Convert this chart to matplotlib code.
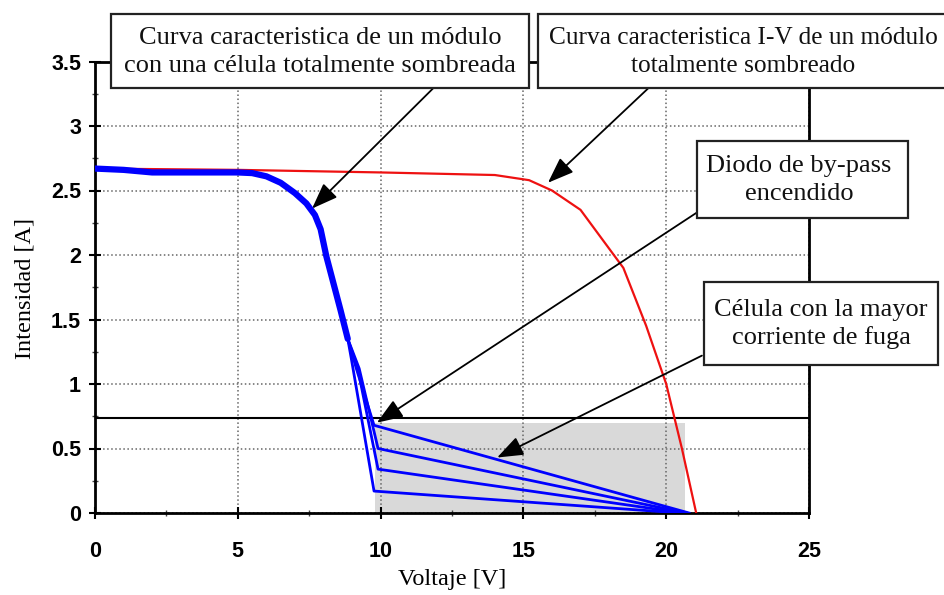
import matplotlib.pyplot as plt
from matplotlib.patches import Rectangle
from matplotlib.ticker import MultipleLocator

plt.rcParams['font.family'] = 'Liberation Serif'

# I-V del modulo totalmente sombreado (rojo)
v_red = [0, 5, 10, 14, 15.2, 16, 17, 18.5, 19.3, 20, 20.55, 21.05]
i_red = [2.67, 2.66, 2.64, 2.62, 2.58, 2.5, 2.35, 1.9, 1.45, 1.0, 0.5, 0.0]

# tramo comun de las curvas azules (una celula sombreada)
v_blue = [0, 1, 2, 3, 4, 5, 5.5, 6.0, 6.5, 7.0, 7.4, 7.7, 7.9, 8.1, 8.6, 8.85]
i_blue = [2.67, 2.66, 2.64, 2.64, 2.64, 2.64, 2.635, 2.61, 2.56, 2.48, 2.40, 2.31, 2.2, 1.99,
          1.57, 1.35]

# tramo final de cada curva azul
v_tail = [[9.15, 9.77, 20.8], [9.25, 9.91, 20.7], [9.2, 9.91, 20.6], [8.98, 9.77, 20.5]]
i_tail = [[1.12, 0.68, 0.0], [1.12, 0.50, 0.0], [1.12, 0.34, 0.0], [1.19, 0.17, 0.0]]

# zona sombreada y linea horizontal
shade_v = [9.8, 20.65]
shade_i = 0.70
i_line = 0.74

xticks = [0, 5, 10, 15, 20, 25]
xlabels = ['0', '5', '10', '15', '20', '25']
yticks = [0, 0.5, 1, 1.5, 2, 2.5, 3, 3.5]
ylabels = ['0', '0.5', '1', '1.5', '2', '2.5', '3', '3.5']

W, H = 944, 595

fig = plt.figure(figsize=(W / 100, H / 100), dpi=100)
ax = fig.add_axes([95 / W, 1 - 513 / H, 714 / W, 451.5 / H])

ax.fill_between(shade_v, 0, shade_i, color='#d9d9d9', lw=0, zorder=0.2)
ax.axhline(i_line, color='black', lw=1.5, zorder=2)

ax.plot(v_red, i_red, color='#ee1111', lw=1.6, zorder=3)
for vt, it in zip(v_tail, i_tail):
    ax.plot(v_blue + vt, i_blue + it, color='#0000ff', lw=2, zorder=4)
ax.plot(v_blue, i_blue, color='#0000ff', lw=4.5, solid_capstyle='round',
        solid_joinstyle='round', zorder=4)

ax.set_xlim(0, 25)
ax.set_ylim(0, 3.5)
ax.set_xticks(xticks)
ax.set_xticklabels(xlabels)
ax.set_yticks(yticks)
ax.set_yticklabels(ylabels)
ax.xaxis.set_minor_locator(MultipleLocator(2.5))
ax.yaxis.set_minor_locator(MultipleLocator(0.25))
for lab in ax.get_xticklabels() + ax.get_yticklabels():
    lab.set_family('Liberation Sans')
    lab.set_fontweight('bold')
    lab.set_fontsize(15.5)
ax.tick_params(which='major', direction='inout', length=8, width=1.5, color='black')
ax.tick_params(which='minor', direction='inout', length=5, width=1, color='#444444')
ax.tick_params(axis='x', which='major', pad=16)
ax.tick_params(axis='y', which='major', pad=6)

ax.set_axisbelow(True)
ax.grid(True, which='major', linestyle=':', color='#666666', lw=1.1)
for sp in ax.spines.values():
    sp.set_linewidth(2)

ax.set_xlabel('Voltaje [V]', fontsize=17.5)
ax.xaxis.set_label_coords(0.5, -0.125)
fig.text(25 / W, 1 - 288 / H, 'Intensidad [A]', rotation=90, ha='center',
         va='center', fontsize=17.5)

# flechas de las anotaciones
arrow_tail = [(11.83, 3.29), (19.36, 3.29), (21.08, 2.33), (21.25, 1.22)]
arrow_head = [(7.6, 2.36), (15.86, 2.56), (9.87, 0.70), (14.08, 0.43)]
for start, tip in zip(arrow_tail, arrow_head):
    ax.annotate('', xy=tip, xytext=start, annotation_clip=False,
                arrowprops=dict(arrowstyle='-|>,head_length=0.8,head_width=0.3',
                                mutation_scale=20, color='black', lw=1.3,
                                shrinkA=0, shrinkB=0), zorder=5)

# cuadros de texto (x0, y0, x1, y1 en pixeles, centro del texto, tamano)
boxes = [
    ((111, 14, 529, 88), (320, 52), 19,
     'Curva caracteristica de un módulo\ncon una célula totalmente sombreada'),
    ((538, 14, 960, 88), (743, 52), 18.3,
     'Curva caracteristica I-V de un módulo\ntotalmente sombreado'),
    ((697, 141, 908, 218), (799, 180), 19, 'Diodo de by-pass\nencendido'),
    ((704, 282, 938, 365), (821, 324), 19, 'Célula con la mayor\ncorriente de fuga'),
]
for (x0, y0, x1, y1), (cx, cy), fs, txt in boxes:
    fig.add_artist(Rectangle((x0 / W, 1 - y1 / H), (x1 - x0) / W, (y1 - y0) / H,
                             transform=fig.transFigure, facecolor='white',
                             edgecolor='#222222', lw=1.6, zorder=6))
    fig.text(cx / W, 1 - cy / H, txt, ha='center', va='center', fontsize=fs,
             linespacing=1.32, color='#111111', zorder=7)

fig.savefig('out.png', dpi=100)
